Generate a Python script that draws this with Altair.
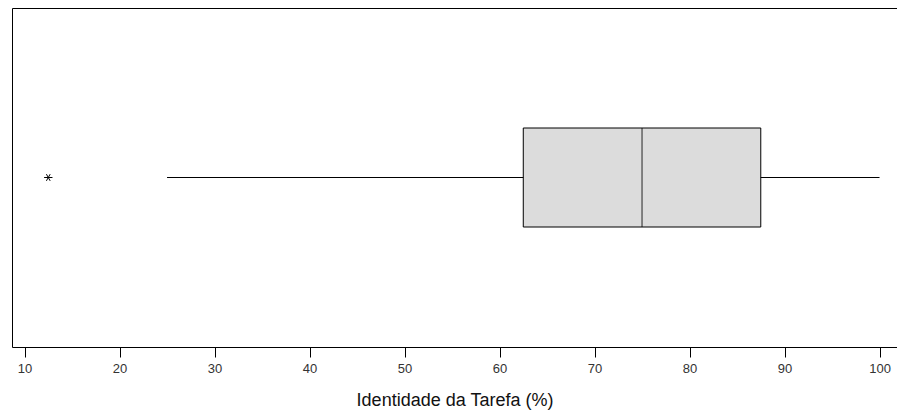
import altair as alt
import pandas as pd

group = ["Identidade da Tarefa"]
whisker_low = [25.0]
q1 = [62.5]
median = [75.0]
q3 = [87.5]
whisker_high = [100.0]
outliers = [12.5]
tick_values = [10, 20, 30, 40, 50, 60, 70, 80, 90, 100]

stats = pd.DataFrame({
    "g": group,
    "lo": whisker_low,
    "q1": q1,
    "med": median,
    "q3": q3,
    "hi": whisker_high,
})
out_df = pd.DataFrame({"g": group * len(outliers), "v": outliers})

xscale = alt.Scale(domain=[8.68, 101.84], nice=False, zero=False)
xaxis = alt.Axis(
    values=tick_values, grid=False, domain=False, tickSize=10, tickColor="black",
    labelFont="Liberation Sans", labelFontSize=13, labelColor="#333333", labelPadding=5,
    title="Identidade da Tarefa (%)", titleFont="Liberation Sans", titleFontSize=18,
    titleFontWeight="normal", titleColor="#111111", titlePadding=16,
)
yenc = alt.Y("g:N", axis=None, scale=alt.Scale(paddingInner=0, paddingOuter=0))

base = alt.Chart(stats)

whisker = base.mark_rule(color="black", strokeWidth=1).encode(
    x=alt.X("lo:Q", scale=xscale, axis=xaxis), x2="hi:Q", y=yenc
)
box = base.mark_bar(size=99, color="#dcdcdc", stroke="black", strokeWidth=1).encode(
    x=alt.X("q1:Q", scale=xscale), x2="q3:Q", y=yenc
)
med = base.mark_tick(orient="vertical", size=99, thickness=1.2, color="black").encode(
    x=alt.X("med:Q", scale=xscale), y=yenc
)
star = alt.Chart(out_df).mark_point(
    shape="M-1,0L1,0M-0.45,-0.8L0.45,0.8M0.45,-0.8L-0.45,0.8",
    size=70, color="black", strokeWidth=1, filled=False, opacity=1,
).encode(x=alt.X("v:Q", scale=xscale), y=yenc)

chart = alt.layer(whisker, box, med, star).properties(
    width=885, height=339,
    autosize=alt.AutoSizeParams(type="none"),
    padding={"left": 4, "top": 0, "right": 0, "bottom": 68},
).configure_view(stroke="black", strokeWidth=1)

chart.save("out.html", embed_options={"renderer": "svg", "actions": False})
